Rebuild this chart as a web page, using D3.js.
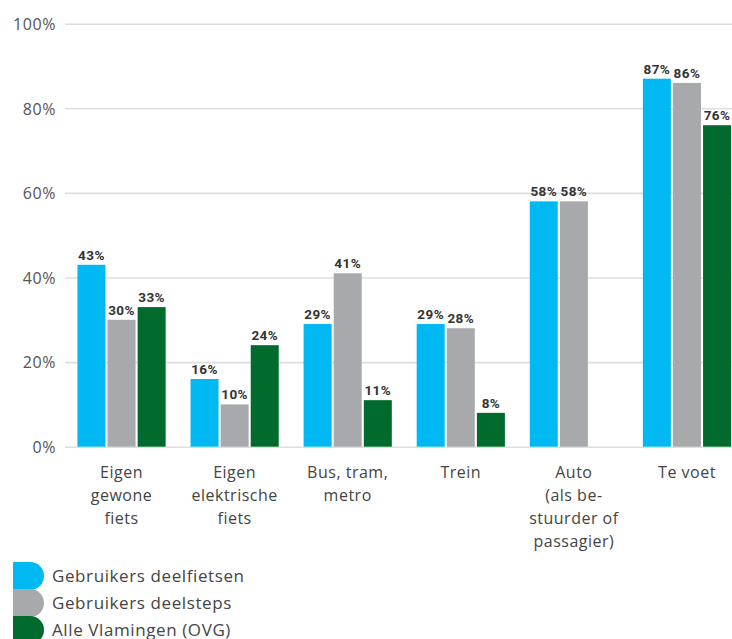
<!DOCTYPE html>
<html><head><meta charset="utf-8">
<script src="https://cdn.jsdelivr.net/npm/d3@7"></script>
<style>
body{margin:0;background:#fff;}
svg{display:block;}
</style></head>
<body>
<svg id="chart" width="732" height="639"></svg>
<script>
const categories = [
  ["Eigen","gewone","fiets"],
  ["Eigen","elektrische","fiets"],
  ["Bus, tram,","metro"],
  ["Trein"],
  ["Auto","(als be-","stuurder of","passagier)"],
  ["Te voet"]
];
const seriesNames = ["Gebruikers deelfietsen","Gebruikers deelsteps","Alle Vlamingen (OVG)"];
const deelfietsen = [43,16,29,29,58,87];
const deelsteps = [30,10,41,28,58,86];
const vlamingen = [33,24,11,8,null,76];
const yTicks = [0,20,40,60,80,100];
const colors = ["#00B9F2","#A7A9AC","#006B2D"];

const series = [deelfietsen, deelsteps, vlamingen];
const svg = d3.select("#chart");
const font = "'Open Sans', sans-serif";

const y = d3.scaleLinear().domain([0,100]).range([446.7,23.7]);
const x0 = d3.scaleBand().domain(d3.range(categories.length)).range([65,743.5]).paddingInner(0.22).paddingOuter(0.11);
const x1 = d3.scaleBand().domain(d3.range(series.length)).range([0,x0.bandwidth()]).paddingInner(0.07);

// grid + y labels
const yAxis = d3.axisLeft(y).tickValues(yTicks).tickFormat(d=>d+"%").tickSize(-667).tickPadding(9);
const ga = svg.append("g").attr("transform","translate(65,0)").call(yAxis);
ga.select(".domain").remove();
ga.selectAll(".tick line").attr("stroke","#dcdfe0").attr("stroke-width",1.6);
ga.selectAll(".tick text").attr("fill","#555").style("font-family",font).style("font-size","16px")
  .style("letter-spacing","0.6px").attr("dy","0.36em");

// bars
const groups = svg.append("g").selectAll("g").data(categories).join("g")
  .attr("transform",(d,i)=>`translate(${x0(i)},0)`);
groups.each(function(c,i){
  const g = d3.select(this);
  series.forEach((s,j)=>{
    const v = s[i];
    if(v==null) return;
    g.append("rect").attr("x",x1(j)).attr("width",x1.bandwidth())
      .attr("y",y(v)).attr("height",y(0)-y(v)).attr("fill",colors[j]);
    g.append("text").attr("x",x1(j)+x1.bandwidth()/2).attr("y",y(v)-5)
      .attr("text-anchor","middle").attr("fill","#333")
      .style("font-family","Roboto, sans-serif").style("font-weight","bold").style("font-size","13.5px")
      .style("letter-spacing","0.4px")
      .text(v+"%");
  });
  const t = g.append("text").attr("text-anchor","middle").attr("fill","#444")
    .style("font-family",font).style("font-size","16px").style("letter-spacing","0.5px");
  c.forEach((line,k)=>{
    t.append("tspan").attr("x",x0.bandwidth()/2).attr("y",478+k*23).text(line);
  });
});

// legend
const lg = svg.append("g");
seriesNames.forEach((n,j)=>{
  const yy = 562 + j*27;
  lg.append("path").attr("d",`M13,${yy} h17 a14,14 0 0 1 0,28 h-17 z`).attr("fill",colors[j]);
  lg.append("text").attr("x",52).attr("y",yy+20).attr("fill","#444")
    .style("font-family",font).style("font-size","17px").style("letter-spacing","0.6px").text(n);
});
</script>
</body></html>
